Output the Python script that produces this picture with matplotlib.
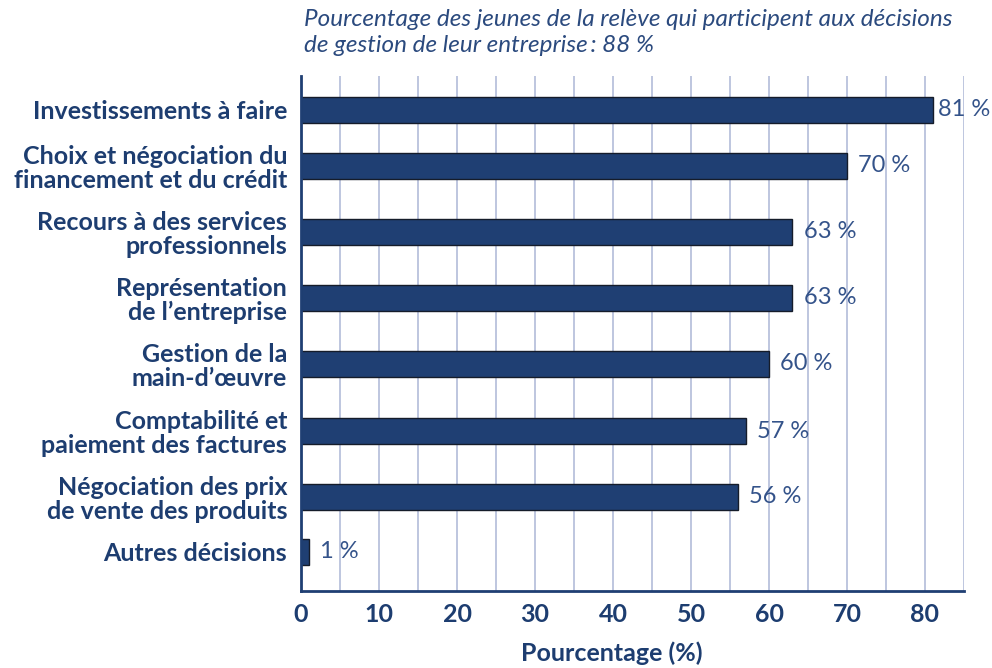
import matplotlib
matplotlib.use("Agg")
import matplotlib.pyplot as plt

categories = [
    "Investissements à faire",
    "Choix et négociation du\nfinancement et du crédit",
    "Recours à des services\nprofessionnels",
    "Représentation\nde l’entreprise",
    "Gestion de la\nmain-d’œuvre",
    "Comptabilité et\npaiement des factures",
    "Négociation des prix\nde vente des produits",
    "Autres décisions",
]
values = [81, 70, 63, 63, 60, 57, 56, 1]
title = ("Pourcentage des jeunes de la relève qui participent aux décisions\n"
         "de gestion de leur entreprise\u2009: 88 %")
xlabel = "Pourcentage (%)"

# layout (row centres, in row units from the top of the axes)
ypos = [0.51, 1.36, 2.36, 3.36, 4.36, 5.38, 6.38, 7.21]
ybottom = 7.80

navy = "#1f3f73"
txt = "#1d3d70"
val_c = "#34538a"
grid_c = "#b9c1dc"

plt.rcParams["font.family"] = ["Lato", "DejaVu Sans"]

fig = plt.figure(figsize=(9.92, 6.68), dpi=100)
ax = fig.add_axes([301 / 992, 1 - 590.7 / 668, (964 - 301) / 992, (590.7 - 76) / 668])

ax.barh(ypos, values, height=0.39, color=navy, edgecolor="#151c2a", linewidth=1.0, zorder=3)
for y, v in zip(ypos, values):
    off = 3.5 if v > 78 else 8   # longest bar: keep label inside the figure
    ax.annotate(f"{v} %", (v, y), xytext=(off, 0), textcoords="offset points",
                va="center", ha="left", fontsize=17, fontweight="normal",
                color=val_c, zorder=4)

ax.set_xlim(0, 85)
ax.set_ylim(ybottom, 0)
ax.set_xticks(range(0, 81, 10))
ax.set_xticks(range(0, 86, 5), minor=True)
ax.grid(axis="x", which="both", color=grid_c, linewidth=1.3, zorder=0)
ax.set_axisbelow(True)
ax.tick_params(axis="x", which="both", length=0, pad=9, labelsize=18, labelcolor=txt)
for t in ax.get_xticklabels():
    t.set_fontweight("bold")

ax.set_yticks(ypos)
ax.set_yticklabels(categories, fontsize=18, fontweight="bold", color=txt,
                   linespacing=1.05, multialignment="right")
ax.tick_params(axis="y", length=0, pad=10)

for s in ("top", "right"):
    ax.spines[s].set_visible(False)
for s in ("left", "bottom"):
    ax.spines[s].set_color(navy)
    ax.spines[s].set_linewidth(2.0)
    ax.spines[s].set_zorder(5)

ax.set_xlabel(xlabel, fontsize=18, fontweight="bold", color=txt)
ax.xaxis.set_label_coords(0.468, -0.098)

fig.text(304 / 992, 1 - 9 / 668, title, ha="left", va="top", fontsize=17.5,
         style="italic", color="#2b4a7e", linespacing=1.3)

fig.savefig("out.png", dpi=100)
